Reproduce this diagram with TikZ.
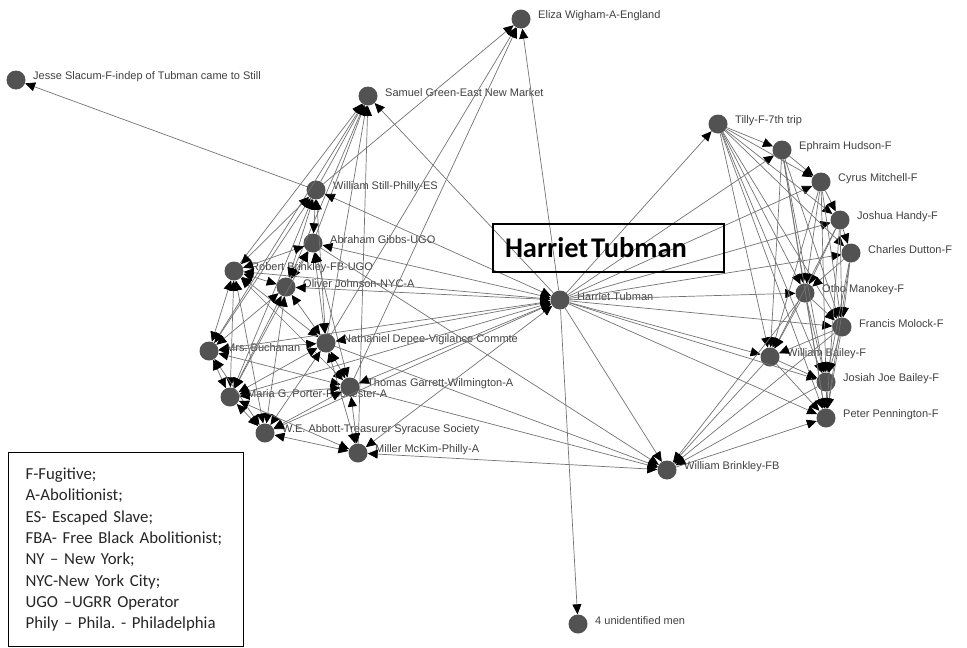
\documentclass[tikz,border=0pt]{standalone}
\usepackage{fontspec}
\setmainfont{Liberation Sans}
\newfontfamily\legendfont{Carlito}
\usetikzlibrary{arrows.meta}
\frenchspacing

\begin{document}
\begin{tikzpicture}[x=1pt,y=-1pt,
  actor/.style={circle,fill=black!68,minimum size=19pt,inner sep=0pt,
    label={[font=\fontsize{11}{12}\selectfont,text=black!75,yshift=3pt,label distance=4pt]right:#1}},
  link/.style={draw=black!55,line width=0.7pt,-{Triangle[length=10pt,width=9pt,color=black]}},
  pair/.style={link,{Triangle[length=10pt,width=9pt,color=black]}-{Triangle[length=10pt,width=9pt,color=black]}},
  legendbox/.style={draw,line width=1.2pt,anchor=north west,align=left,
    text width=201pt,inner xsep=17pt,minimum height=194pt,text=black!85,
    font=\legendfont\fontsize{16.8}{21.3}\selectfont},
  titlebox/.style={draw,line width=2pt,align=left,text width=207pt,inner xsep=12pt,
    minimum height=48pt,font=\legendfont\bfseries\fontsize{28.5}{30}\selectfont}]
  \useasboundingbox (0,0) rectangle (967,648);

  % left side
  \node[actor={Eliza Wigham-A-England}] (eliza) at (521,19) {};
  \node[actor={Jesse Slacum-F-indep of Tubman came to Still}] (jesse) at (16,80) {};
  \node[actor={Samuel Green-East New Market}] (green) at (368,96) {};
  \node[actor={William Still-Philly-ES}] (still) at (316,190) {};
  \node[actor={Abraham Gibbs-UGO}] (gibbs) at (313,243) {};
  \node[actor={Robert Brinkley-FB-UGO}] (brink) at (234,271) {};
  \node[actor={Oliver Johnson-NYC-A}] (johnson) at (286,287) {};
  \node[actor={Mrs. Buchanan}] (buch) at (209,351) {};
  \node[actor={Nathaniel Depee-Vigilance Commte}] (depee) at (326,343) {};
  \node[actor={Maria G. Porter-Rochester-A}] (porter) at (230,397) {};
  \node[actor={Thomas Garrett-Wilmington-A}] (garrett) at (350,387) {};
  \node[actor={W.E. Abbott-Treasurer Syracuse Society}] (abbott) at (265,433) {};
  \node[actor={Miller McKim-Philly-A}] (mckim) at (358,453) {};

  % centre
  \node[actor={Harriet Tubman}] (tubman) at (560,300) {};
  \node[actor={William Brinkley-FB}] (wbrink) at (667,470) {};
  \node[actor={4 unidentified men}] (men) at (578,624) {};

  % right side
  \node[actor={Tilly-F-7th trip}] (tilly) at (718,124) {};
  \node[actor={Ephraim Hudson-F}] (hudson) at (782,150) {};
  \node[actor={Cyrus Mitchell-F}] (mitchell) at (821,182) {};
  \node[actor={Joshua Handy-F}] (handy) at (840,220) {};
  \node[actor={Charles Dutton-F}] (dutton) at (851,253) {};
  \node[actor={Otho Manokey-F}] (manokey) at (805,293) {};
  \node[actor={Francis Molock-F}] (molock) at (842,327) {};
  \node[actor={William Bailey-F}] (bbailey) at (770,357) {};
  \node[actor={Josiah Joe Bailey-F}] (jbailey) at (826,382) {};
  \node[actor={Peter Pennington-F}] (penn) at (826,418) {};

  \foreach \a/\b in {still/green,gibbs/green,brink/green,johnson/green,buch/green,
      depee/green,mckim/green,still/jesse,still/eliza,depee/eliza,garrett/eliza,
      tubman/eliza,tubman/green,tubman/men,tubman/wbrink}
    \draw[link] (\a) -- (\b);

  \foreach \a/\b in {still/gibbs,still/brink,still/johnson,still/buch,still/depee,still/porter,
      gibbs/brink,gibbs/johnson,gibbs/depee,gibbs/porter,gibbs/garrett,
      brink/johnson,brink/buch,brink/depee,brink/porter,brink/abbott,brink/garrett,
      johnson/buch,johnson/depee,johnson/porter,johnson/abbott,
      buch/depee,buch/porter,buch/abbott,buch/garrett,
      depee/porter,depee/garrett,depee/abbott,depee/mckim,
      porter/garrett,porter/abbott,porter/mckim,
      garrett/abbott,garrett/mckim,abbott/mckim,mckim/wbrink}
    \draw[pair] (\a) -- (\b);

  \foreach \b in {still,gibbs,brink,johnson,buch,depee,porter,garrett,abbott,mckim}
    \draw[pair] (tubman) -- (\b);

  \foreach \b in {tilly,hudson,mitchell,handy,dutton,manokey,molock,bbailey,jbailey,penn}
    \draw[link] (tubman) -- (\b);

  \foreach \a/\b in {tilly/hudson,tilly/mitchell,tilly/handy,tilly/dutton,tilly/manokey,
      tilly/molock,tilly/bbailey,tilly/jbailey,tilly/penn,
      hudson/mitchell,hudson/manokey,hudson/bbailey,hudson/molock,hudson/jbailey,hudson/penn,
      mitchell/handy,mitchell/manokey,mitchell/bbailey,mitchell/molock,mitchell/jbailey,
      handy/dutton,handy/manokey,handy/molock,handy/bbailey,handy/penn,
      dutton/manokey,dutton/molock,dutton/jbailey,dutton/penn,
      manokey/molock,manokey/bbailey,manokey/jbailey,manokey/penn,
      molock/bbailey,molock/jbailey,molock/penn,
      bbailey/jbailey,bbailey/penn,jbailey/penn,
      manokey/wbrink,molock/wbrink,bbailey/wbrink,jbailey/wbrink,wbrink/penn,
      depee/wbrink,garrett/wbrink,gibbs/wbrink}
    \draw[link] (\a) -- (\b);

  \node[titlebox] (title) at (608.5,248) {Harriet\hspace{0.1em}Tubman};

  \node[legendbox] (legend) at (8,452) {F-Fugitive;\\ A-Abolitionist;\\ ES- Escaped Slave;\\
    FBA- Free Black Abolitionist;\\ NY – New York;\\ NYC-New York City;\\
    UGO –UGRR Operator\\ Phily – Phila. - Philadelphia};
\end{tikzpicture}
\end{document}
